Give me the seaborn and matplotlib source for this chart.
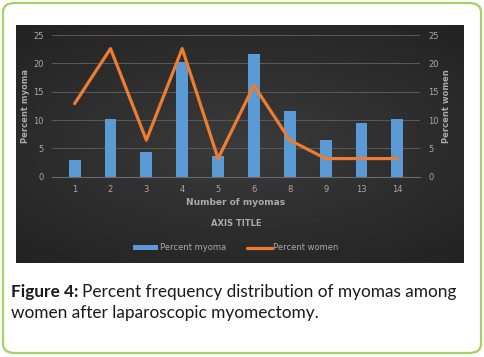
import numpy as np
import pandas as pd
import seaborn as sns
import matplotlib.pyplot as plt
from matplotlib.patches import FancyBboxPatch

num_myomas = ['1', '2', '3', '4', '5', '6', '8', '9', '13', '14']
pct_myoma = [2.9, 10.1, 4.3, 20.3, 3.6, 21.7, 11.6, 6.5, 9.4, 10.1]
pct_women = [12.9, 22.6, 6.45, 22.6, 3.2, 16.1, 6.45, 3.2, 3.2, 3.2]

df = pd.DataFrame({'n': num_myomas, 'myoma': pct_myoma, 'women': pct_women})

sns.set_style('dark')
plt.rcParams['font.family'] = ['DejaVu Sans']
txt = '#a9a9a9'
blue = '#5b9bd5'
orange = '#ed7d31'

fig = plt.figure(figsize=(4.84, 3.57), dpi=100)
fig.patch.set_facecolor('white')

# green rounded frame
frame = FancyBboxPatch((3 / 484, 4 / 357), 478 / 484, 350 / 357,
                       boxstyle='round,pad=0,rounding_size=0.025',
                       transform=fig.transFigure, fill=False,
                       edgecolor='#a3d165', linewidth=1.6)
fig.patches.append(frame)

# dark panel with soft vignette
bg = fig.add_axes([16 / 484, 1 - 263 / 357, 448 / 484, 238 / 357])
yy, xx = np.mgrid[-1:1:200j, -1:1:300j]
shade = 0.23 - 0.07 * np.sqrt(xx ** 2 * 0.8 + yy ** 2)
bg.imshow(shade, cmap='gray', vmin=0, vmax=1, aspect='auto', extent=[0, 1, 0, 1])
bg.set_axis_off()

ax = fig.add_axes([52 / 484, 1 - 176.7 / 357, 368 / 484, 141.7 / 357])
ax.patch.set_alpha(0)
sns.barplot(data=df, x='n', y='myoma', color=blue, width=0.33, saturation=1,
            linewidth=0, ax=ax, label='Percent myoma')
if ax.get_legend() is not None:
    ax.get_legend().remove()
ax.set_ylim(0, 25)
ax.set_yticks(range(0, 26, 5))
ax.grid(axis='y', color='#5a5a5a', linewidth=0.7)
ax.set_axisbelow(True)
for s in ax.spines.values():
    s.set_visible(False)
ax.spines['bottom'].set_visible(True)
ax.spines['bottom'].set_color('#6a6a6a')
ax.tick_params(colors=txt, labelsize=6, length=0, pad=6)
ax.set_ylabel('Percent myoma', color=txt, fontsize=6, fontweight='bold', labelpad=2)
ax.set_xlabel('Number of myomas', color=txt, fontsize=6.5, fontweight='bold', labelpad=3)

ax2 = ax.twinx()
sns.lineplot(x=np.arange(len(num_myomas)), y=df['women'], color=orange,
             linewidth=2.3, ax=ax2, label='Percent women', legend=False)
ax2.set_ylim(0, 25)
ax2.set_yticks(range(0, 26, 5))
ax2.grid(False)
for s in ax2.spines.values():
    s.set_visible(False)
ax2.tick_params(colors=txt, labelsize=6, length=0, pad=6)
ax2.set_ylabel('Percent women', color=txt, fontsize=6, fontweight='bold', labelpad=2)

fig.text(236 / 484, 1 - 223 / 357, 'AXIS TITLE', color=txt, fontsize=6,
         fontweight='bold', ha='center', va='center')

h1, l1 = ax.get_legend_handles_labels()
h2, l2 = ax2.get_legend_handles_labels()
leg = fig.legend(h1 + h2, l1 + l2, loc='center', bbox_to_anchor=(236 / 484, 1 - 248 / 357),
                 ncol=2, frameon=False, fontsize=6, labelcolor=txt,
                 handlelength=3, handleheight=0.5, handletextpad=0.2, columnspacing=2.5)

cap_font = ['Lato', 'DejaVu Sans']
cap_size = 12.4
t1 = fig.text(11 / 484, 1 - 292 / 357, 'Figure 4:', fontsize=cap_size, fontweight='bold',
              family=cap_font, color='#1a1a1a', va='center')
r = fig.canvas.get_renderer()
x_end = fig.transFigure.inverted().transform(t1.get_window_extent(r))[1, 0]
fig.text(x_end + 4 / 484, 1 - 292 / 357, 'Percent frequency distribution of myomas among',
         fontsize=cap_size, family=cap_font, color='#1a1a1a', va='center')
fig.text(11 / 484, 1 - 313 / 357, 'women after laparoscopic myomectomy.',
         fontsize=cap_size, family=cap_font, color='#1a1a1a', va='center')

fig.savefig('out.png', dpi=100)
